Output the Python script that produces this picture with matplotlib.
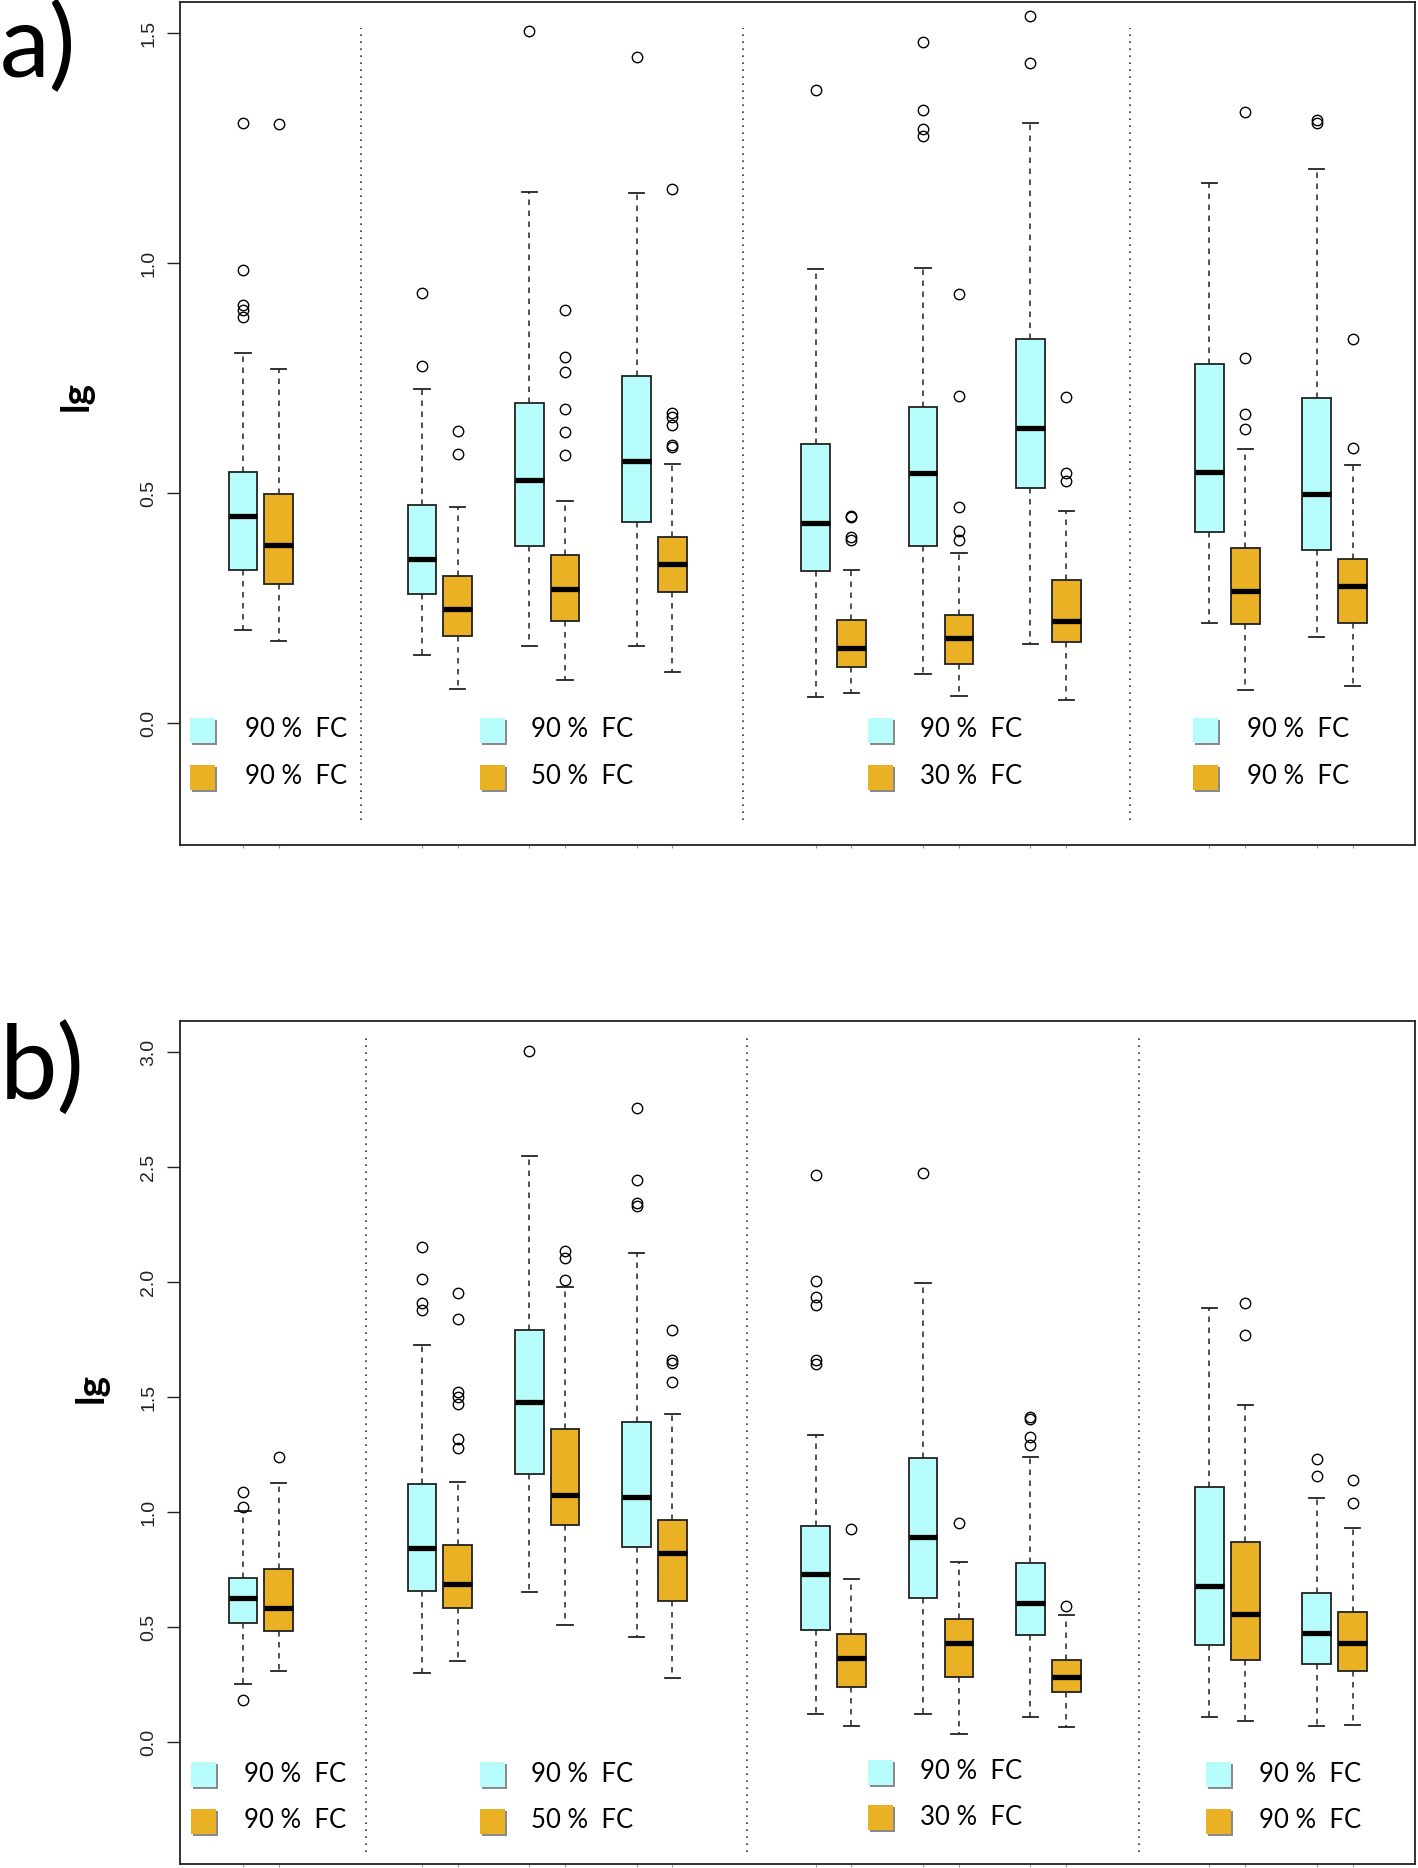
import numpy as np
import matplotlib.pyplot as plt
from matplotlib.transforms import offset_copy

# box positions (same for both panels), R-style grouped boxplots
positions = [1, 2, 6, 7, 9, 10, 12, 13, 17, 18, 20, 21, 23, 24, 28, 29, 31, 32]

# panel a) : whisker low, q1, median, q3, whisker high, outliers
a_lo = [.203, .178, .149, .075, .167, .093, .167, .110, .057, .065, .106, .059, .173, .050, .217, .073, .188, .081]
a_q1 = [.333, .302, .280, .189, .386, .222, .437, .284, .330, .121, .386, .128, .511, .177, .415, .215, .377, .218]
a_med = [.450, .387, .357, .249, .528, .291, .570, .345, .436, .164, .544, .186, .641, .222, .546, .287, .498, .297]
a_q3 = [.546, .497, .473, .319, .696, .365, .754, .405, .606, .224, .688, .234, .834, .310, .780, .380, .707, .357]
a_hi = [.804, .769, .726, .470, 1.154, .483, 1.153, .564, .988, .333, .990, .369, 1.304, .461, 1.175, .596, 1.204, .562]
a_out = [[1.304, .986, .909, .898, .882], [1.302], [.934, .777], [.636, .584], [1.504],
         [.898, .795, .763, .682, .633, .583], [1.449], [1.162, .673, .665, .649, .604, .601],
         [1.377], [.451, .447, .405, .398], [1.480, 1.333, 1.291, 1.276], [.932, .712, .470, .418, .399],
         [1.538, 1.436], [.709, .543, .527], [], [1.328, .793, .671, .639], [1.311, 1.305], [.834, .599]]

# panel b)
b_lo = [.254, .310, .301, .354, .651, .510, .457, .278, .123, .071, .122, .035, .110, .064, .107, .091, .072, .074]
b_q1 = [.519, .483, .655, .584, 1.164, .942, .848, .613, .486, .239, .628, .284, .464, .217, .420, .357, .341, .309]
b_med = [.625, .581, .842, .686, 1.480, 1.075, 1.065, .820, .732, .364, .891, .429, .603, .283, .677, .555, .475, .429]
b_q3 = [.714, .751, 1.123, .855, 1.791, 1.361, 1.391, .964, .939, .470, 1.236, .536, .780, .355, 1.107, .868, .648, .565]
b_hi = [1.004, 1.128, 1.725, 1.132, 2.549, 1.978, 2.128, 1.426, 1.335, .707, 1.997, .784, 1.241, .552, 1.888, 1.465, 1.061, .932]
b_out = [[1.088, 1.023, .181], [1.241], [2.154, 2.012, 1.910, 1.878],
         [1.951, 1.841, 1.52, 1.50, 1.472, 1.317, 1.28], [3.006], [2.135, 2.103, 2.010],
         [2.755, 2.443, 2.345, 2.33], [1.790, 1.661, 1.65, 1.564], [2.467, 2.006, 1.936, 1.899, 1.661, 1.642],
         [.926], [2.475], [.954], [1.415, 1.406, 1.328, 1.291], [.590], [], [1.909, 1.768],
         [1.232, 1.157], [1.139, 1.038]]

leg_top = ["90 %  FC", "90 %  FC", "90 %  FC", "90 %  FC"]
leg_bot = ["90 %  FC", "50 %  FC", "30 %  FC", "90 %  FC"]

cyan = '#B6FDFB'
orange = '#EAB124'

fig = plt.figure(figsize=(14.18, 18.68), dpi=100)
ax_a = fig.add_axes([0.1269, 0.5476, 0.8709, 0.4513])
ax_b = fig.add_axes([0.1269, 0.0021, 0.8709, 0.4513])


def draw_panel(ax, lo, q1, med, q3, hi, out, ylim, yticks, seps, sep_y,
               sq_x, sq_y, tx_x):
    stats = []
    for i in range(len(med)):
        stats.append(dict(med=med[i], q1=q1[i], q3=q3[i], whislo=lo[i],
                          whishi=hi[i], fliers=out[i]))
    bp = ax.bxp(stats, positions=positions, widths=0.8, capwidths=0.43,
                patch_artist=True, manage_ticks=False,
                boxprops=dict(linewidth=1.3, edgecolor='#222222'),
                medianprops=dict(color='black', linewidth=3.8, solid_capstyle='butt'),
                whiskerprops=dict(linestyle=(0, (3.6, 3.6)), linewidth=1.1, color='#222222'),
                capprops=dict(linewidth=1.3, color='#222222'),
                flierprops=dict(marker='o', markerfacecolor='none', markeredgecolor='black',
                                markersize=7.5, markeredgewidth=1.0))
    for i, patch in enumerate(bp['boxes']):
        patch.set_facecolor(cyan if i % 2 == 0 else orange)

    ax.vlines(seps, sep_y[0], sep_y[1], colors='#333333', linewidth=1.2,
              linestyles=[(0, (1, 3.2))])

    # legend squares with a small shadow, and labels
    shadow = offset_copy(ax.transData, fig=fig, x=2, y=-2, units='dots')
    for j in range(4):
        for k, col in enumerate([cyan, orange]):
            ax.plot(sq_x[j], sq_y[j][k], marker='s', markersize=18, color='#8a8a8a',
                    markeredgewidth=0, transform=shadow, zorder=3)
            ax.plot(sq_x[j], sq_y[j][k], marker='s', markersize=18, color=col,
                    markeredgewidth=0, zorder=4)
        ax.text(tx_x[j], sq_y[j][0], leg_top[j],
                fontsize=18.5, family='Lato', va='center', ha='left')
        ax.text(tx_x[j], sq_y[j][1], leg_bot[j],
                fontsize=18.5, family='Lato', va='center', ha='left')

    ax.set_xlim(-0.76, 33.74)
    ax.set_ylim(*ylim)
    ax.set_yticks(yticks)
    ax.set_yticklabels(['%.1f' % t for t in yticks], rotation=90, va='center',
                       family='Liberation Sans', fontsize=14, color='#222222')
    ax.tick_params(axis='y', length=9.4, width=1.0, pad=7, color='#222222')
    ax.set_xticks(positions)
    ax.set_xticklabels([])
    ax.tick_params(axis='x', length=2.5, width=0.8, color='#999999')
    for s in ax.spines.values():
        s.set_linewidth(1.3)
        s.set_color('#222222')


draw_panel(ax_a, a_lo, a_q1, a_med, a_q3, a_hi, a_out,
           (-0.2652, 1.5674), [0.0, 0.5, 1.0, 1.5],
           [4.30, 14.96, 25.79], (-0.21, 1.51),
           [-0.13, 7.97, 18.79, 27.88],
           [(-0.015, -0.117)] * 4,
           [1.06, 9.06, 19.91, 29.06])

draw_panel(ax_b, b_lo, b_q1, b_med, b_q3, b_hi, b_out,
           (-0.5304, 3.1348), [0.0, 0.5, 1.0, 1.5, 2.0, 2.5, 3.0],
           [4.43, 15.07, 26.03], (-0.478, 3.065),
           [-0.12, 7.97, 18.79, 28.25],
           [(-0.139, -0.341), (-0.139, -0.341), (-0.130, -0.327), (-0.140, -0.343)],
           [1.04, 9.06, 19.91, 29.39])

# panel letters and axis titles
fig.text(0.0, 1 - 1 / 1868, 'a)', fontsize=72, family='Lato', va='top', ha='left')
fig.text(0.0, 1 - 1022 / 1868, 'b)', fontsize=74, family='Lato', va='top', ha='left')
fig.text(76 / 1418, 1 - 396 / 1868, 'lg', fontsize=28, family='Lato', fontweight='bold',
         rotation=90, va='center', ha='center')
fig.text(91 / 1418, 1 - 1388 / 1868, 'lg', fontsize=28, family='Lato', fontweight='bold',
         rotation=90, va='center', ha='center')

fig.savefig('out.png', dpi=100)
